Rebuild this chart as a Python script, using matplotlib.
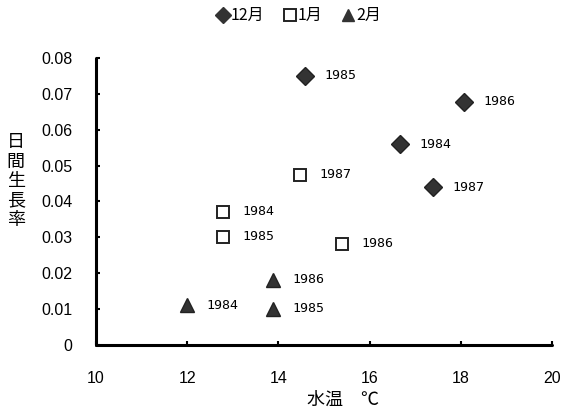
import matplotlib.pyplot as plt
from matplotlib.lines import Line2D

plt.rcParams['font.family'] = ['Noto Sans CJK JP', 'DejaVu Sans']

# 12月
dec_x = [16.67, 14.58, 18.07, 17.38]
dec_y = [0.0559, 0.0751, 0.0678, 0.0440]
dec_lab = ['1984', '1985', '1986', '1987']
# 1月
jan_x = [12.79, 12.79, 15.39, 14.47]
jan_y = [0.0372, 0.0302, 0.0282, 0.0474]
jan_lab = ['1984', '1985', '1986', '1987']
# 2月
feb_x = [11.99, 13.89, 13.89]
feb_y = [0.0111, 0.0100, 0.0181]
feb_lab = ['1984', '1985', '1986']

fig = plt.figure(figsize=(5.61, 4.12), dpi=100)
ax = fig.add_axes([0.171, 0.163, 0.813, 0.696])

ax.plot(dec_x, dec_y, 'D', ms=9, color='#333333', mec='#222222', ls='none')
ax.plot(jan_x, jan_y, 's', ms=8, mfc='white', mec='#222222', mew=1.4, ls='none')
ax.plot(feb_x, feb_y, '^', ms=10.5, color='#333333', mec='#222222', ls='none')

for xs, ys, labs in [(dec_x, dec_y, dec_lab), (jan_x, jan_y, jan_lab), (feb_x, feb_y, feb_lab)]:
    for x, y, t in zip(xs, ys, labs):
        ax.annotate(t, (x, y), xytext=(14, 0), textcoords='offset points',
                    va='center', ha='left', fontsize=9.5, family='DejaVu Sans Mono')

ax.set_xlim(10, 20)
ax.set_ylim(0, 0.08)
ax.set_xticks([10, 12, 14, 16, 18, 20])
ax.set_yticks([0, 0.01, 0.02, 0.03, 0.04, 0.05, 0.06, 0.07, 0.08])
ax.set_yticklabels(['0', '0.01', '0.02', '0.03', '0.04', '0.05', '0.06', '0.07', '0.08'])
ax.tick_params(direction='in', length=3, width=1.5, labelsize=11.5)
ax.tick_params(axis='y', pad=17)
ax.tick_params(axis='x', pad=19)
for lab in ax.get_xticklabels() + ax.get_yticklabels():
    lab.set_family('Liberation Sans')
for s in ['top', 'right']:
    ax.spines[s].set_visible(False)
for s in ['left', 'bottom']:
    ax.spines[s].set_linewidth(2.2)
    ax.spines[s].set_capstyle('round')

fig.text(0.611, 0.029, '水温　℃', fontsize=13, ha='center', va='center')
fig.text(0.028, 0.56, '\n'.join('日間生長率'), fontsize=13, ha='center', va='center',
         linespacing=1.1)

handles = [Line2D([], [], marker='D', ms=8, color='#333333', ls='none'),
           Line2D([], [], marker='s', ms=8, mfc='white', mec='#222222', mew=1.4, ls='none'),
           Line2D([], [], marker='^', ms=9, color='#333333', ls='none')]
fig.legend(handles, ['12月', '1月', '2月'], loc='center', bbox_to_anchor=(0.53, 0.962),
           ncol=3, frameon=False, fontsize=11.5, handletextpad=-0.1, columnspacing=1.0,
           handlelength=1.2)

fig.savefig('out.png', dpi=100)
